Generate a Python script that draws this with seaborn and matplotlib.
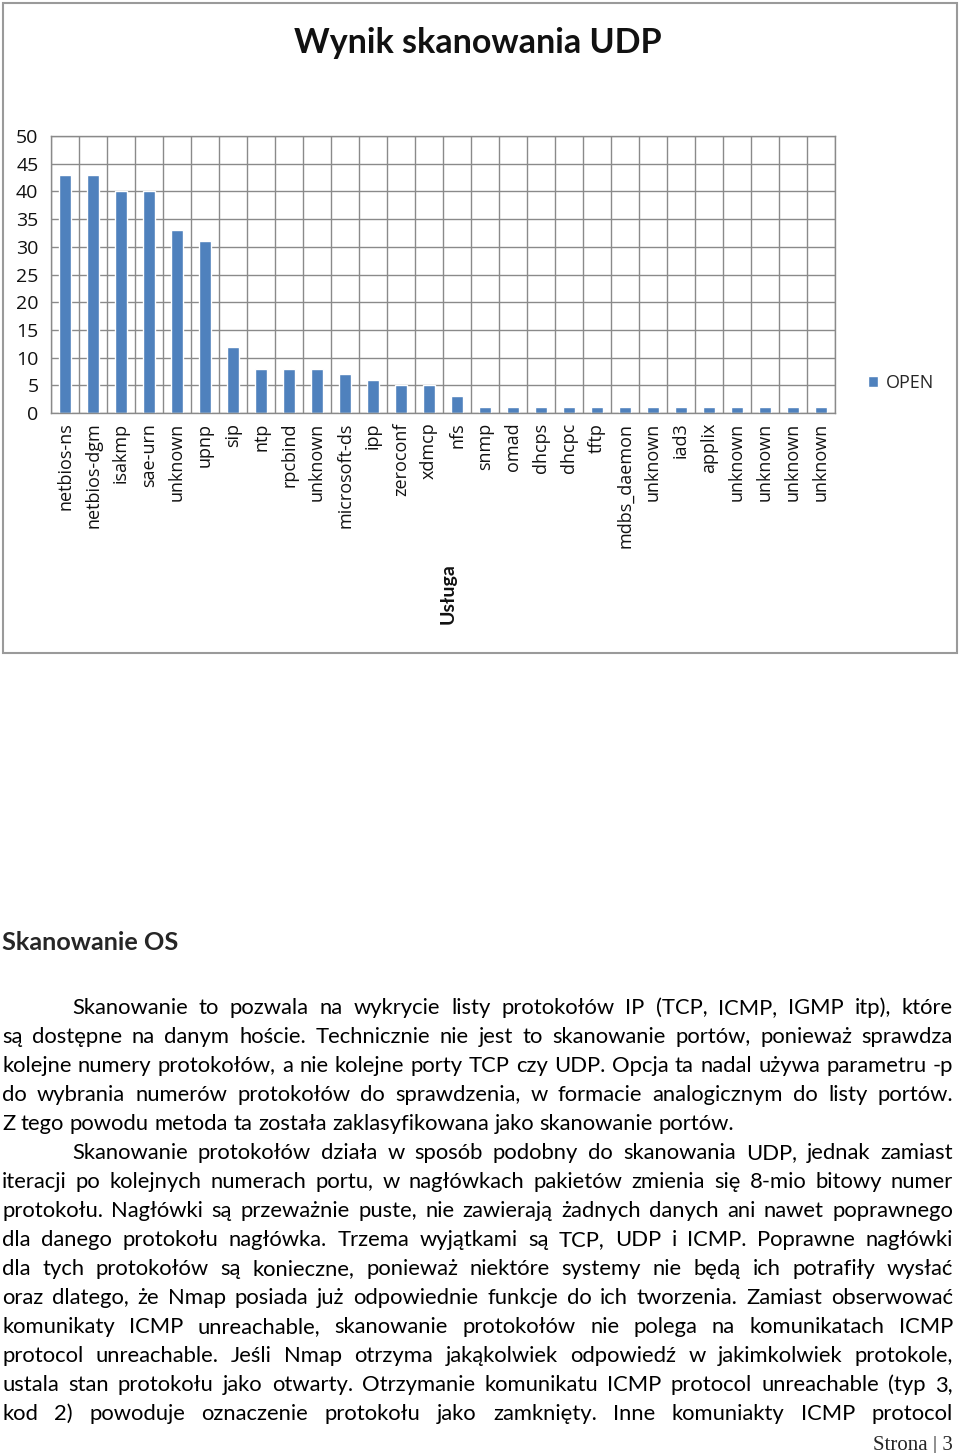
import numpy as np
import pandas as pd
import matplotlib
matplotlib.use("Agg")
import matplotlib.pyplot as plt
from matplotlib.patches import Rectangle
import seaborn as sns

W, H = 960, 1453

# ---------- chart data ----------
services = ["netbios-ns", "netbios-dgm", "isakmp", "sae-urn", "unknown", "upnp", "sip", "ntp",
            "rpcbind", "unknown", "microsoft-ds", "ipp", "zeroconf", "xdmcp", "nfs", "snmp",
            "omad", "dhcps", "dhcpc", "tftp", "mdbs_daemon", "unknown", "iad3", "applix",
            "unknown", "unknown", "unknown", "unknown"]
open_counts = [43, 43, 40, 40, 33, 31, 12, 8, 8, 8, 7, 6, 5, 5, 3,
               1, 1, 1, 1, 1, 1, 1, 1, 1, 1, 1, 1, 1]
y_ticks = [0, 5, 10, 15, 20, 25, 30, 35, 40, 45, 50]

# ---------- page text ----------
heading = "Skanowanie OS"
para1 = [
    "Skanowanie to pozwala na wykrycie listy protokołów IP (TCP, ICMP, IGMP itp), które",
    "są dostępne na danym hoście. Technicznie nie jest to skanowanie portów, ponieważ sprawdza",
    "kolejne numery protokołów, a nie kolejne porty TCP czy UDP. Opcja ta nadal używa parametru -p",
    "do wybrania numerów protokołów do sprawdzenia, w formacie analogicznym do listy portów.",
    "Z tego powodu metoda ta została zaklasyfikowana jako skanowanie portów.",
]
para2 = [
    "Skanowanie protokołów działa w sposób podobny do skanowania UDP, jednak zamiast",
    "iteracji po kolejnych numerach portu, w nagłówkach pakietów zmienia się 8-mio bitowy numer",
    "protokołu. Nagłówki są przeważnie puste, nie zawierają żadnych danych ani nawet poprawnego",
    "dla danego protokołu nagłówka. Trzema wyjątkami są TCP, UDP i ICMP. Poprawne nagłówki",
    "dla tych protokołów są konieczne, ponieważ niektóre systemy nie będą ich potrafiły wysłać",
    "oraz dlatego, że Nmap posiada już odpowiednie funkcje do ich tworzenia. Zamiast obserwować",
    "komunikaty ICMP unreachable, skanowanie protokołów nie polega na komunikatach ICMP",
    "protocol unreachable. Jeśli Nmap otrzyma jakąkolwiek odpowiedź w jakimkolwiek protokole,",
    "ustala stan protokołu jako otwarty. Otrzymanie komunikatu ICMP protocol unreachable (typ 3,",
    "kod 2) powoduje oznaczenie protokołu jako zamknięty. Inne komuniakty ICMP protocol",
]
footer = "Strona | 3"

BAR_C = "#4F81BD"
GRID_C = "#8a8a8a"
TICK_FONT = ["Open Sans", "DejaVu Sans"]


def fx(x):
    return x / W


def fy(y):
    return 1 - y / H


sns.set_theme(style="white")
plt.rcParams["font.family"] = ["Lato", "DejaVu Sans"]

fig = plt.figure(figsize=(W / 100, H / 100), dpi=100)

# chart frame
fig.add_artist(Rectangle((fx(3), fy(653)), (957 - 3) / W, (653 - 3) / H,
                         transform=fig.transFigure, fill=False, ec="#9a9a9a", lw=1.5))

ax = fig.add_axes([fx(51), fy(413), (835 - 51) / W, (413 - 136) / H])
df = pd.DataFrame({"pos": range(len(services)), "Usługa": services,
                   "count": open_counts, "state": "OPEN"})
sns.barplot(data=df, x="pos", y="count", hue="state", palette={"OPEN": BAR_C},
            width=0.4, saturation=1, ax=ax)

ax.set_xlim(-0.5, len(services) - 0.5)
ax.set_ylim(0, 50)
ax.set_yticks(y_ticks)
ax.set_yticklabels([str(v) for v in y_ticks], family=TICK_FONT, fontsize=14, color="#111111")
ax.set_xticks(range(len(services)))
ax.set_xticklabels(services, rotation=90, fontsize=13, family=TICK_FONT, color="#111111")
ax.set_xticks(np.arange(-0.5, len(services), 1), minor=True)
ax.tick_params(axis="x", which="major", length=0, pad=7)
ax.tick_params(axis="x", which="minor", length=5, width=1, color=GRID_C, direction="out")
ax.tick_params(axis="y", which="major", length=6, width=1, color=GRID_C, direction="out", pad=3)
ax.grid(which="minor", axis="x", color=GRID_C, lw=1)
ax.grid(which="major", axis="y", color=GRID_C, lw=1)
for s in ax.spines.values():
    s.set_color(GRID_C)
    s.set_linewidth(1)
ax.set_ylabel("")
ax.set_xlabel("Usługa", rotation=90, fontsize=14, fontweight="bold", va="center", color="#111111")
ax.xaxis.set_label_coords((448 - 51) / 784, -(594 - 413) / 277)

handles, labels = ax.get_legend_handles_labels()
ax.legend(handles, labels, loc="center left", bbox_to_anchor=(fx(868), fy(383)),
          bbox_transform=fig.transFigure, frameon=False, handlelength=0.55,
          handleheight=0.55, handletextpad=0.45, borderpad=0, borderaxespad=0,
          prop={"family": TICK_FONT, "size": 13})

fig.text(fx(478), fy(43), "Wynik skanowania UDP", ha="center", va="center",
         fontsize=24.5, fontweight="bold", color="#111111")

# ---------- body text (justified) ----------
renderer = fig.canvas.get_renderer()
body_kw = dict(fontsize=15.8, color="black", va="baseline", ha="left")


def text_width(s, **kw):
    t = fig.text(0, 0, s, **kw)
    w = t.get_window_extent(renderer).width
    t.remove()
    return w


space_w = text_width("a a", **body_kw) - 2 * text_width("a", **body_kw)


def put_line(line, x0, x1, base, justify=True):
    words = line.split(" ")
    widths = [text_width(w, **body_kw) for w in words]
    if justify and len(words) > 1:
        gap = (x1 - x0 - sum(widths)) / (len(words) - 1)
    else:
        gap = space_w
    x = x0
    for w, wd in zip(words, widths):
        fig.text(fx(x), fy(base), w, **body_kw)
        x += wd + gap


fig.text(fx(2), fy(950), heading, fontsize=18.2, fontweight="bold", va="baseline", ha="left")

LEFT, RIGHT, STEP = 2, 953, 29
base = 1014
for paragraph in (para1, para2):
    for i, line in enumerate(paragraph):
        x0 = 72 if i == 0 else LEFT
        last = paragraph is para1 and i == len(paragraph) - 1
        put_line(line, x0, RIGHT, base, justify=not last)
        base += STEP

fig.text(fx(953), fy(1450), footer, fontsize=15, family=["Liberation Serif"],
         va="baseline", ha="right")

fig.savefig("out.png", dpi=100)
